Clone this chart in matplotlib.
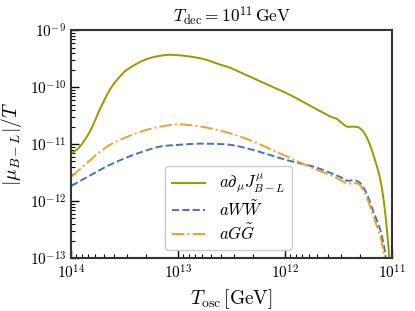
import numpy as np
import matplotlib
matplotlib.use("Agg")
import matplotlib.pyplot as plt

plt.rcParams['mathtext.fontset'] = 'cm'
plt.rcParams['font.family'] = 'serif'
plt.rcParams['font.serif'] = ['cmr10', 'DejaVu Serif']
plt.rcParams['axes.formatter.use_mathtext'] = True

# log10(T_osc / GeV) and log10(|mu_B-L|/T)
logT_dJ = [14.0, 13.92, 13.82, 13.73, 13.64, 13.56, 13.48, 13.32, 13.17, 13.03, 12.79, 12.61,
           12.51, 12.30, 11.98, 11.74, 11.58, 11.52, 11.47, 11.42, 11.36, 11.30, 11.24,
           11.18, 11.11, 11.065, 11.03, 11.015]
mu_dJ = [-11.16, -11.04, -10.75, -10.37, -10.04, -9.84, -9.69, -9.52, -9.445, -9.43, -9.49, -9.60,
         -9.66, -9.84, -10.11, -10.35, -10.51, -10.55, -10.63, -10.69, -10.69, -10.72, -10.87,
         -11.16, -11.63, -12.21, -12.91, -13.3]

logT_WW = [14.0, 13.79, 13.64, 13.48, 13.32, 13.17, 13.01, 12.86, 12.70, 12.51, 12.30,
           11.98, 11.74, 11.58, 11.49, 11.42, 11.36, 11.30, 11.24, 11.18, 11.11, 11.065, 11.045]
mu_WW = [-11.73, -11.51, -11.36, -11.23, -11.12, -11.04, -11.01, -10.99, -10.99, -11.01, -11.10,
         -11.28, -11.39, -11.50, -11.57, -11.64, -11.63, -11.68, -11.86, -12.16, -12.51, -12.92, -13.3]

logT_GG = [14.0, 13.79, 13.64, 13.48, 13.32, 13.17, 13.01, 12.86, 12.70, 12.51, 12.30,
           11.98, 11.74, 11.58, 11.49, 11.42, 11.36, 11.30, 11.24, 11.18, 11.11, 11.08, 11.06]
mu_GG = [-11.57, -11.22, -11.01, -10.87, -10.76, -10.69, -10.65, -10.67, -10.72, -10.81, -10.95,
         -11.22, -11.42, -11.54, -11.62, -11.69, -11.68, -11.72, -11.92, -12.24, -12.63, -12.92, -13.3]

labels = [r'$a\partial_\mu J^\mu_{B-L}$', r'$aW\tilde{W}$', r'$aG\tilde{G}$']
colors = ['#999900', '#4C72B0', '#EBA032']


# Catmull-Rom through the read points (in log space), just to draw them smooth
def smooth(xs, ys, n=20):
    p = np.column_stack([xs, ys])
    p = np.vstack([2 * p[0] - p[1], p, 2 * p[-1] - p[-2]])
    t = np.linspace(0, 1, n, endpoint=False)[:, None]
    out = []
    for i in range(1, len(p) - 2):
        p0, p1, p2, p3 = p[i - 1], p[i], p[i + 1], p[i + 2]
        out.append(0.5 * (2 * p1 + (-p0 + p2) * t + (2 * p0 - 5 * p1 + 4 * p2 - p3) * t ** 2
                          + (-p0 + 3 * p1 - 3 * p2 + p3) * t ** 3))
    out.append(p[-2][None, :])
    out = np.vstack(out)
    return 10 ** out[:, 0], 10 ** out[:, 1]


fig, ax = plt.subplots(figsize=(4.15, 3.11), dpi=100)
fig.subplots_adjust(left=0.172, right=0.945, top=0.902, bottom=0.17)

x, y = smooth(logT_dJ, mu_dJ)
ax.plot(x, y, color=colors[0], lw=1.4, label=labels[0])
x, y = smooth(logT_WW, mu_WW)
ax.plot(x, y, color=colors[1], lw=1.4, ls='--', label=labels[1])
x, y = smooth(logT_GG, mu_GG)
ax.plot(x, y, color=colors[2], lw=1.4, ls='-.', label=labels[2])

ax.set_xscale('log')
ax.set_yscale('log')
ax.set_xlim(1e14, 1e11)
ax.set_ylim(1e-13, 1e-9)

ax.tick_params(which='both', direction='in', labelsize=11, right=False, top=False)
ax.tick_params(which='major', length=6, width=1)
ax.tick_params(which='minor', length=3, width=0.8)
for s in ax.spines.values():
    s.set_linewidth(1.5)
    s.set_color('#333333')

ax.set_title(r'$T_{\rm dec} = 10^{11}\,{\rm GeV}$', fontsize=12.5)
ax.set_xlabel(r'$T_{\rm osc}\,[{\rm GeV}]$', fontsize=14)
ax.set_ylabel(r'$|\mu_{B-L}|/T$', fontsize=14)

ax.legend(loc='lower center', bbox_to_anchor=(0.49, 0.0), fontsize=12, framealpha=1,
          edgecolor='#cccccc', handlelength=2.0, labelspacing=0.2, borderpad=0.4)

fig.savefig('out.png', dpi=100)
